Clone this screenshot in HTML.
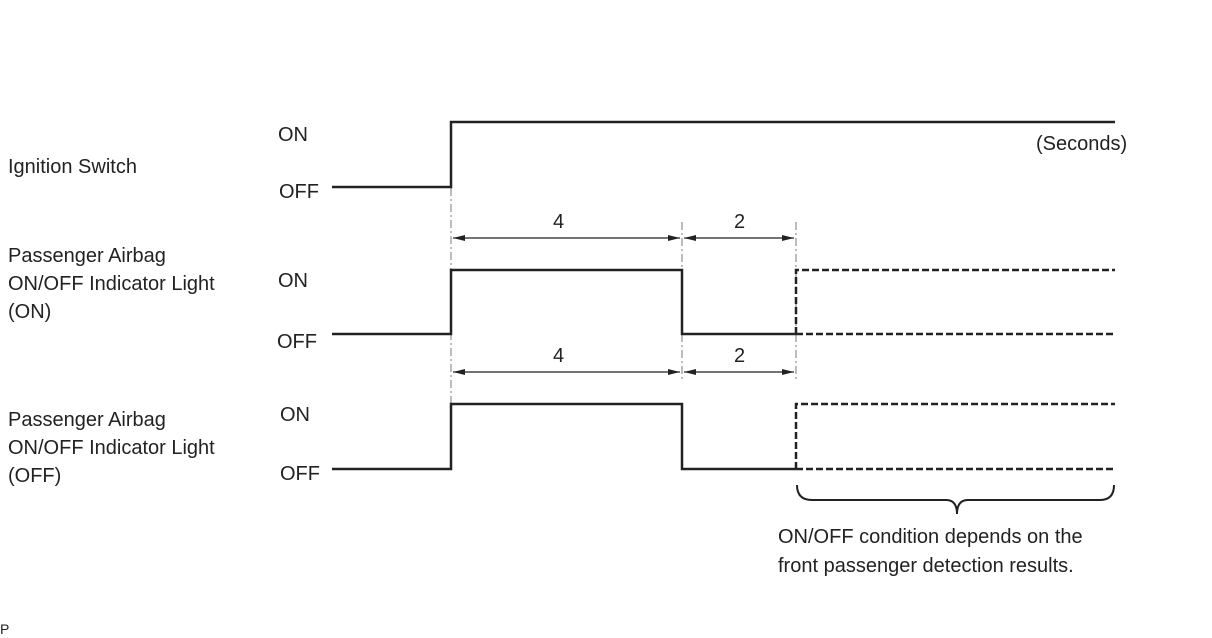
<!DOCTYPE html>
<html><head><meta charset="utf-8"><style>
html,body{margin:0;padding:0;background:#fff;}
svg{display:block;}
text{font-family:"Liberation Sans",Arial,sans-serif;font-size:20px;fill:#222;}
</style></head><body>
<svg width="1212" height="638" viewBox="0 0 1212 638" xmlns="http://www.w3.org/2000/svg">
<defs>
<marker id="a" markerWidth="12" markerHeight="8" refX="12" refY="4" orient="auto" markerUnits="userSpaceOnUse">
<path d="M0,1 L12,4 L0,7 Z" fill="#222"/></marker>
<marker id="b" markerWidth="12" markerHeight="8" refX="0" refY="4" orient="auto" markerUnits="userSpaceOnUse">
<path d="M12,1 L0,4 L12,7 Z" fill="#222"/></marker>
</defs>
<!-- left labels -->
<text x="8" y="173">Ignition Switch</text>
<text x="8" y="262">Passenger Airbag</text>
<text x="8" y="290">ON/OFF Indicator Light</text>
<text x="8" y="318">(ON)</text>
<text x="8" y="426">Passenger Airbag</text>
<text x="8" y="454">ON/OFF Indicator Light</text>
<text x="8" y="482">(OFF)</text>
<!-- ON/OFF labels -->
<text x="278" y="141">ON</text>
<text x="279" y="198">OFF</text>
<text x="278" y="287">ON</text>
<text x="277" y="348">OFF</text>
<text x="280" y="421">ON</text>
<text x="280" y="480">OFF</text>
<text x="1036" y="150">(Seconds)</text>
<!-- dash-dot guides -->
<g stroke="#999" stroke-width="1.3" stroke-dasharray="8,3,2,3" fill="none">
<line x1="451" y1="188" x2="451" y2="470"/>
<line x1="682" y1="222" x2="682" y2="380"/>
<line x1="796" y1="222" x2="796" y2="380"/>
</g>
<!-- waveforms -->
<g stroke="#222" stroke-width="2.5" fill="none">
<polyline points="332,187 451,187 451,122 1115,122"/>
<polyline points="332,334 451,334 451,270 682,270 682,334 796,334"/>
<polyline points="332,469 451,469 451,404 682,404 682,469 796,469"/>
</g>
<g stroke="#222" stroke-width="2.5" fill="none" stroke-dasharray="7,3">
<polyline points="796,334 796,270 1115,270"/>
<line x1="796" y1="334" x2="1115" y2="334"/>
<polyline points="796,469 796,404 1115,404"/>
<line x1="796" y1="469" x2="1115" y2="469"/>
</g>
<!-- dimension arrows -->
<g stroke="#222" stroke-width="1.3">
<line x1="453" y1="238" x2="680" y2="238" marker-start="url(#b)" marker-end="url(#a)"/>
<line x1="684" y1="238" x2="794" y2="238" marker-start="url(#b)" marker-end="url(#a)"/>
<line x1="453" y1="372" x2="680" y2="372" marker-start="url(#b)" marker-end="url(#a)"/>
<line x1="684" y1="372" x2="794" y2="372" marker-start="url(#b)" marker-end="url(#a)"/>
</g>
<text x="553" y="228">4</text>
<text x="734" y="228">2</text>
<text x="553" y="362">4</text>
<text x="734" y="362">2</text>
<!-- brace -->
<path d="M797,485 Q797,500 812,500 L946,500 Q957,500 957,514 Q957,500 968,500 L1100,500 Q1114,500 1114,485" stroke="#222" stroke-width="2" fill="none"/>
<text x="778" y="543">ON/OFF condition depends on the</text>
<text x="778" y="572">front passenger detection results.</text>
<text x="0" y="634" style="font-size:14px">P</text>
</svg>
</body></html>
